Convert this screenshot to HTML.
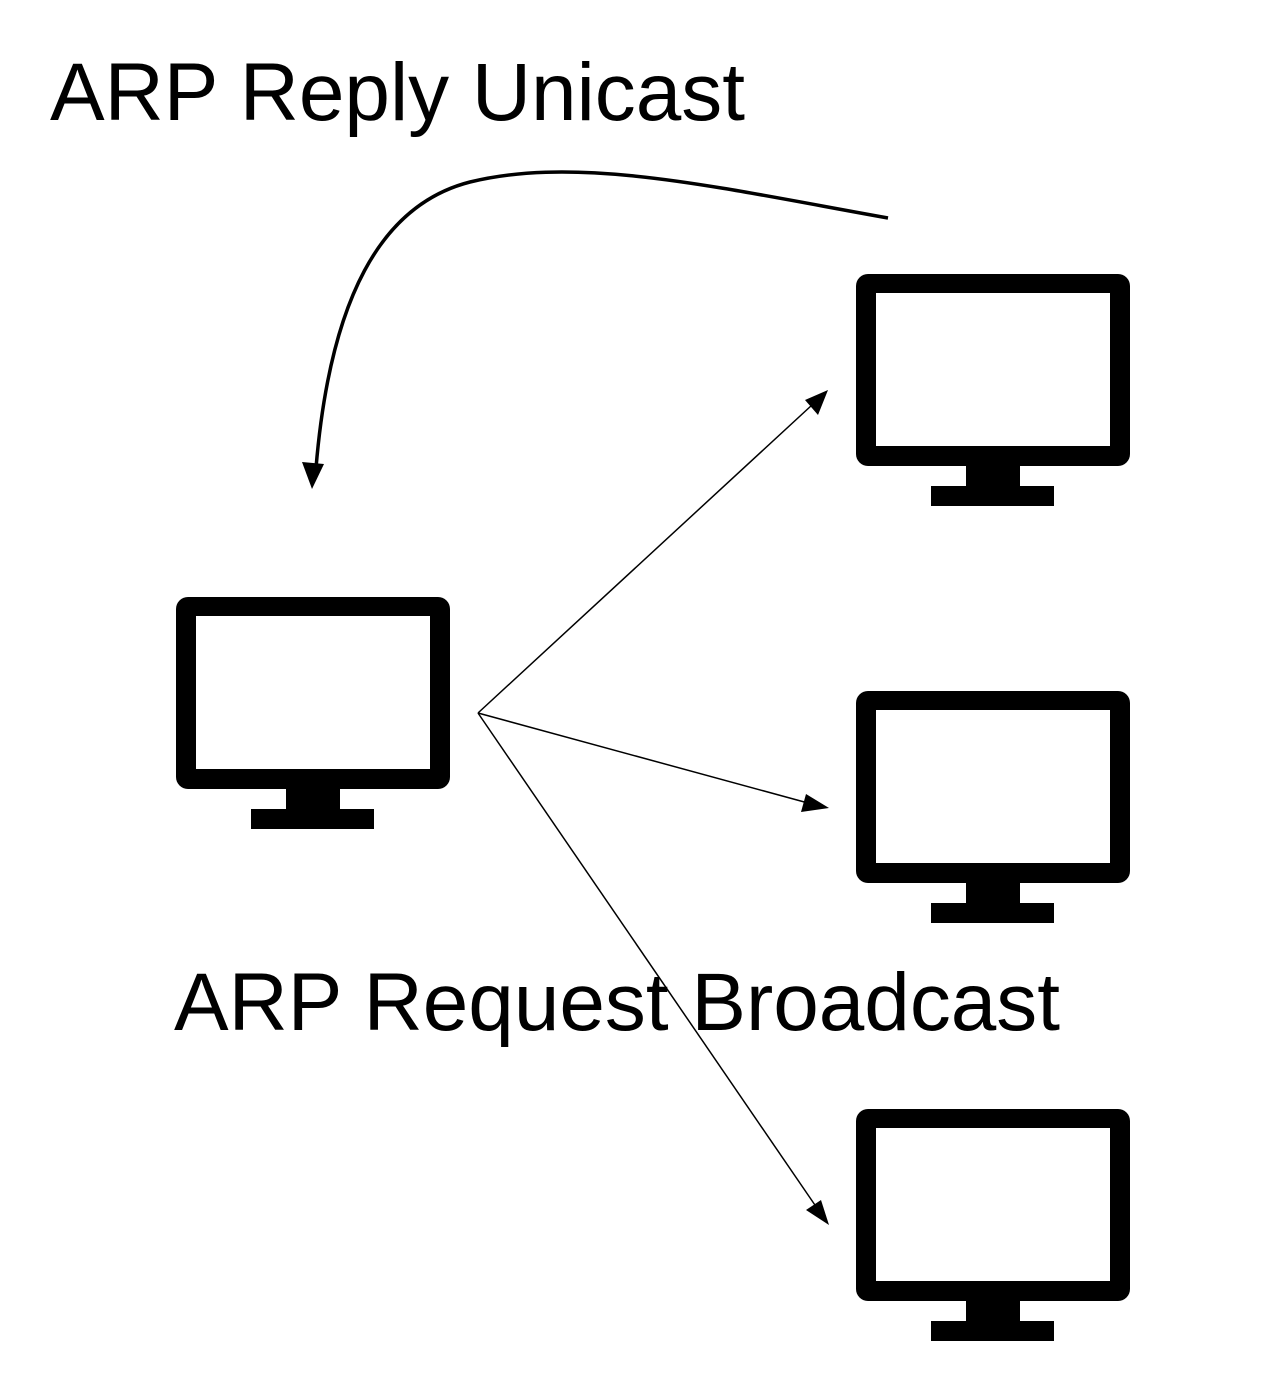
<!DOCTYPE html>
<html><head><style>html,body{margin:0;padding:0;background:#fff}svg{display:block}</style></head>
<body>
<svg width="1280" height="1390" viewBox="0 0 1280 1390" xmlns="http://www.w3.org/2000/svg">
<defs>
<g id="mon">
<rect x="0" y="0" width="274" height="192" rx="12" fill="#000"/>
<rect x="20" y="19" width="234" height="153" fill="#fff"/>
<rect x="110" y="190" width="54" height="23" fill="#000"/>
<rect x="75" y="212" width="123" height="20" fill="#000"/>
</g>
<marker id="ah" markerWidth="10" markerHeight="8" refX="9" refY="4" orient="auto" markerUnits="userSpaceOnUse" viewBox="0 0 10 8">
</marker>
</defs>
<text x="50" y="120" font-family="Liberation Sans, sans-serif" font-size="82" textLength="695" lengthAdjust="spacingAndGlyphs">ARP Reply Unicast</text>
<text x="174" y="1030" font-family="Liberation Sans, sans-serif" font-size="82" textLength="886" lengthAdjust="spacingAndGlyphs">ARP Request Broadcast</text>
<use href="#mon" x="856" y="274"/>
<use href="#mon" x="856" y="691"/>
<use href="#mon" x="856" y="1109"/>
<use href="#mon" x="176" y="597"/>
<g stroke="#000" stroke-width="1.5" fill="none">
<line x1="478" y1="713" x2="812" y2="405"/>
<line x1="478" y1="713" x2="808" y2="803"/>
<line x1="478" y1="713" x2="817" y2="1208"/>
</g>
<polygon points="828,390 818,415 805,400" fill="#000"/>
<polygon points="829,808 801,812 806,794" fill="#000"/>
<polygon points="829,1225 806,1210 821,1200" fill="#000"/>
<path d="M888,218 C720,188 580,155 470,182 C380,205 330,300 316,468" stroke="#000" stroke-width="3.5" fill="none"/>
<polygon points="312,489 302,462 324,464" fill="#000"/>
</svg>
</body></html>
